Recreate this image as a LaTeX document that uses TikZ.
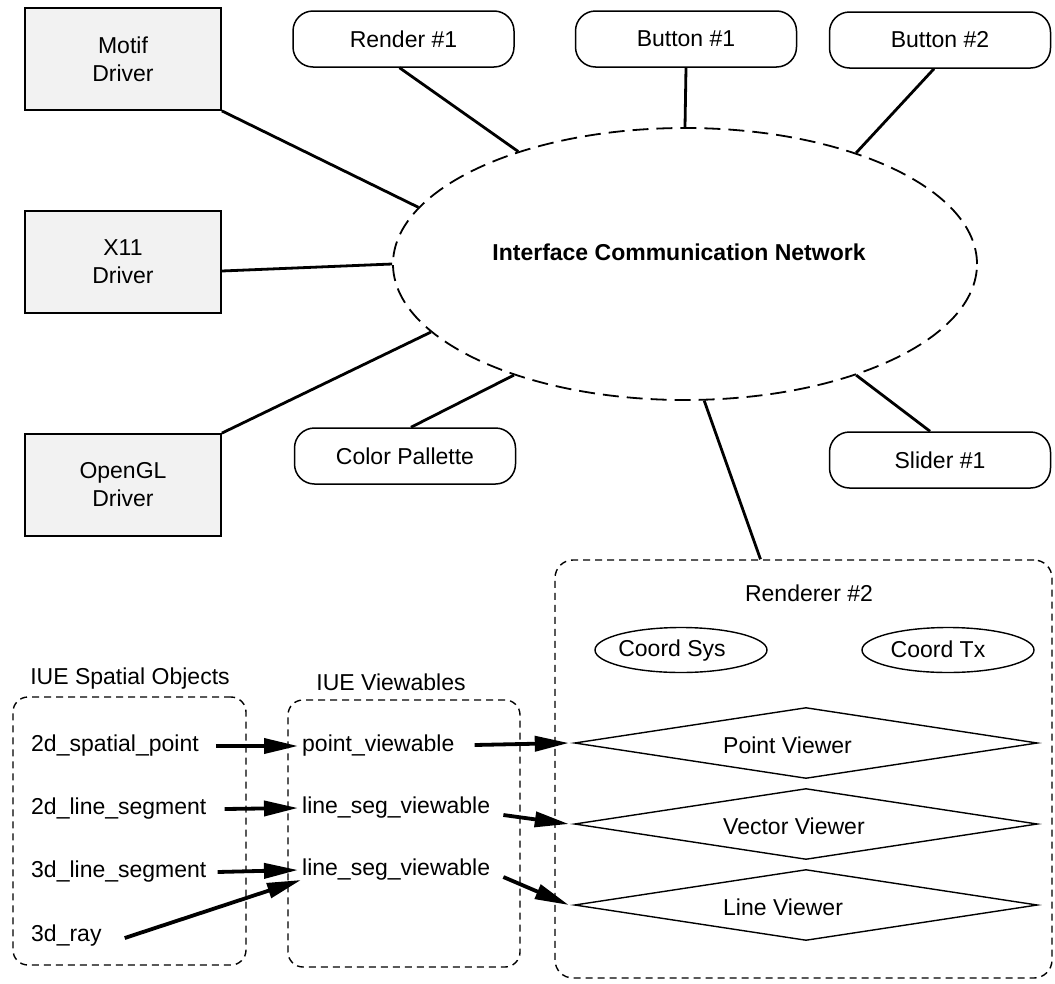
\documentclass[tikz,border=0pt]{standalone}
\usepackage{fontspec}
\setmainfont{Liberation Sans}
\usetikzlibrary{shapes.geometric,arrows.meta,calc}
\begin{document}
\begin{tikzpicture}[x=1pt,y=-1pt,
  every node/.style={font=\fontsize{23}{28}\selectfont},
  driver/.style={draw, line width=1.8pt, fill=black!5, minimum width=196pt, minimum height=102pt, align=center, inner sep=0pt},
  pill/.style={draw, line width=1.5pt, rounded corners=20pt, minimum width=221pt, minimum height=56pt, inner sep=0pt},
  conn/.style={line width=2.8pt},
  arr/.style={line width=3.8pt, -{Triangle[length=34pt,width=15pt]}},
  dbox/.style={draw, line width=1.4pt, rounded corners=18pt, dash pattern=on 7pt off 5pt},
  txt/.style={anchor=west, inner sep=1pt},
  dia/.style={draw, diamond, aspect=6.5, minimum width=463pt, minimum height=71pt, inner sep=0pt, line width=1.4pt},
  oval/.style={draw, ellipse, line width=1.4pt, minimum width=172pt, minimum height=45pt, inner sep=0pt}
]
\useasboundingbox (0,0) rectangle (1055,983);

% drivers
\node[driver] (motif) at (123,59) {Motif\\Driver};
\node[driver] (x11) at (123,262) {X11\\Driver};
\node[driver] (ogl) at (123,485) {OpenGL\\Driver};

% pills
\node[pill] (r1) at (403.5,39) {Render \#1};
\node[pill] (b1) at (686,39) {Button \#1};
\node[pill] (b2) at (940,40) {Button \#2};
\node[pill] (cp) at (405,456) {Color Pallette};
\node[pill] (s1) at (940,460) {Slider \#1};

% network
\node[draw, ellipse, dash pattern=on 16pt off 8pt, line width=1.8pt, minimum width=584pt, minimum height=272pt, inner sep=0pt] (net) at (685,264) {};
\node[font=\bfseries\fontsize{23}{28}\selectfont] (netl) at (679,252) {Interface Communication Network};

% connectors to network
\draw[conn] (motif.south east) -- (net.168.6);
\draw[conn] ([xshift=-4pt]r1.south) -- (net.146.9);
\draw[conn] (b1.south) -- (net.90);
\draw[conn] ([xshift=-6pt]b2.south) -- (net.33.7);
\draw[conn] ([yshift=-9pt]x11.east) -- (net.180);
\draw[conn] (ogl.north east) -- (net.195.6);
\draw[conn] ([xshift=6pt]cp.north) -- (net.213.8);
\draw[conn] ([xshift=-10pt]s1.north) -- (net.327.8);

% renderer 2
\node[dbox, minimum width=497pt, minimum height=418pt] (rend) at (803.5,769) {};
\draw[conn] (net.278.2) -- ([xshift=-43pt]rend.north);
\node (rendl) at (809,593) {Renderer \#2};
\node[oval] (cs) at (681,650) {};
\node (csl) at (672,651) {Coord Sys};
\node[oval] (ctx) at (948,650) {};
\node (ctxl) at (938,649) {Coord Tx};
\node[dia] (pv) at (806,743) {};
\node[dia] (vv) at (806,824) {};
\node[dia] (lv) at (806,905) {};
\node[txt] (pvl) at (722,745) {Point Viewer};
\node[txt] (vvl) at (722,826) {Vector Viewer};
\node[txt] (lvl) at (722,907) {Line Viewer};

% IUE boxes
\node[dbox, rounded corners=15pt, minimum width=233pt, minimum height=268pt] (sp) at (129.5,831) {};
\node (spl) at (130,679) {IUE Spatial Objects};
\node[dbox, rounded corners=15pt, minimum width=232pt, minimum height=267pt] (vw) at (404,833.5) {};
\node (vwl) at (391,682) {IUE Viewables};

\node[txt] (t1) at (30,746) {2d\_spatial\_point};
\node[txt] (t2) at (30,809) {2d\_line\_segment};
\node[txt] (t3) at (30,872) {3d\_line\_segment};
\node[txt] (t4) at (30,936) {3d\_ray};

\node[txt] (v1) at (301,746) {point\_viewable};
\node[txt] (v2) at (301,808) {line\_seg\_viewable};
\node[txt] (v3) at (301,870) {line\_seg\_viewable};

\draw[arr] ([xshift=16pt]t1.east) -- ([xshift=-3pt]v1.west);
\draw[arr] ([xshift=17pt]t2.east) -- ([xshift=-3pt]v2.west);
\draw[arr] ([xshift=10pt]t3.east) -- ([xshift=-3pt]v3.west);
\draw[arr] ($(t4.east)+(22,2)$) -- ($(v3.west)+(0,10)$);

\draw[arr] ($(v1.east)+(19,-1)$) -- ([xshift=-5pt]pv.west);
\draw[arr] ($(v2.east)+(12,7)$) -- ([xshift=-5pt]vv.west);
\draw[arr] ($(v3.east)+(12,7)$) -- ([xshift=-5pt]lv.west);
\end{tikzpicture}
\end{document}
